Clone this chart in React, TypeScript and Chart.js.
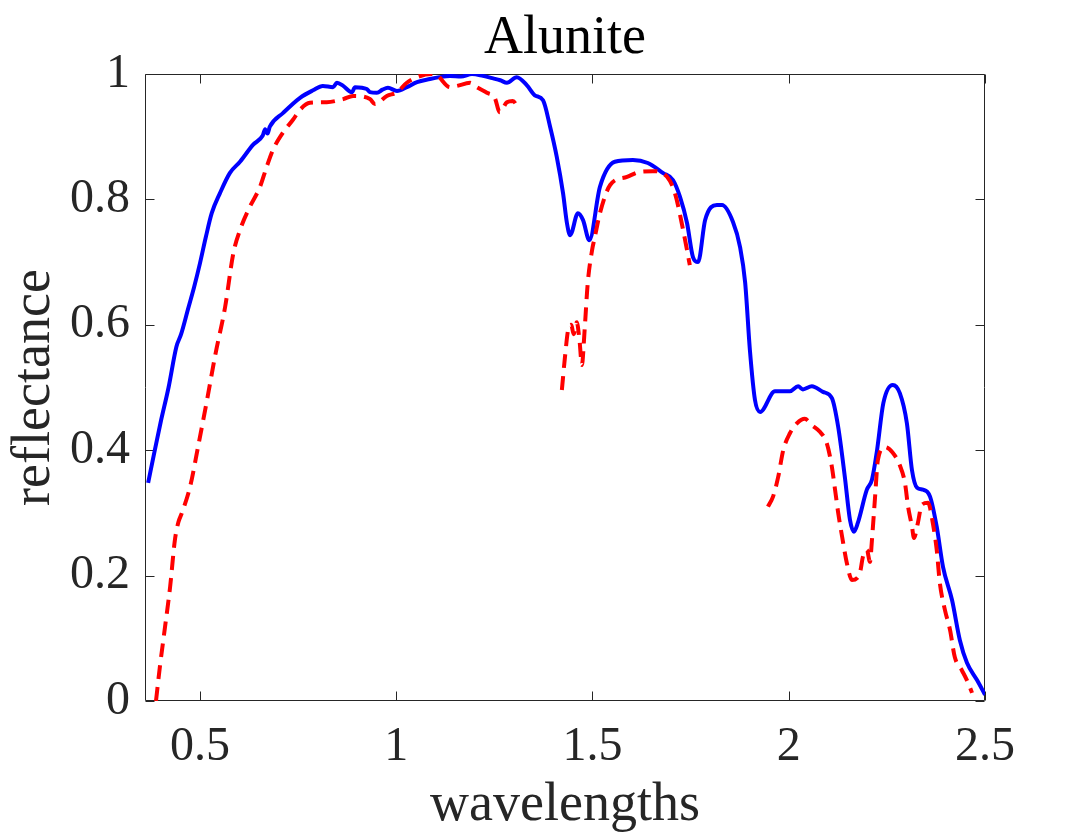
import React, { useEffect, useRef } from "react";
import { Chart, registerables } from "chart.js";

Chart.register(...registerables);

const titleText = "Alunite";
const xLabel = "wavelengths";
const yLabel = "reflectance";

const xMin = 0.36;
const xMax = 2.5;
const yMin = 0;
const yMax = 1;

const xTicks = [0.5, 1, 1.5, 2, 2.5];
const xTickLabels = ["0.5", "1", "1.5", "2", "2.5"];
const yTicks = [0, 0.2, 0.4, 0.6, 0.8, 1];
const yTickLabels = ["0", "0.2", "0.4", "0.6", "0.8", "1"];

// Blue solid spectrum
const blueWl = [
  0.368, 0.385, 0.4, 0.42, 0.44, 0.452, 0.47, 0.485, 0.5, 0.515, 0.53, 0.551, 0.576, 0.602, 0.635,
  0.66, 0.666, 0.672, 0.678, 0.712, 0.755, 0.788, 0.813, 0.839, 0.849, 0.865, 0.887, 0.895, 0.925,
  0.933, 0.951, 0.965, 0.979, 1.002, 1.027, 1.053, 1.086, 1.11, 1.137, 1.165, 1.193, 1.221, 1.247,
  1.265, 1.282, 1.307, 1.333, 1.353, 1.374, 1.392, 1.409, 1.425, 1.435, 1.443, 1.463, 1.476, 1.492,
  1.519, 1.557, 1.603, 1.641, 1.68, 1.705, 1.723, 1.741, 1.756, 1.769, 1.787, 1.817, 1.83, 1.858,
  1.876, 1.889, 1.901, 1.914, 1.927, 1.965, 2.003, 2.024, 2.036, 2.059, 2.087, 2.11, 2.126, 2.143,
  2.156, 2.166, 2.176, 2.199, 2.212, 2.225, 2.241, 2.265, 2.283, 2.301, 2.314, 2.327, 2.342, 2.36,
  2.377, 2.393, 2.416, 2.436, 2.454, 2.48, 2.5,
];
const blueRef = [
  0.348, 0.4, 0.445, 0.5, 0.565, 0.585, 0.626, 0.66, 0.698, 0.74, 0.778, 0.81, 0.842, 0.86, 0.887,
  0.902, 0.912, 0.905, 0.916, 0.938, 0.962, 0.974, 0.981, 0.979, 0.986, 0.981, 0.971, 0.979, 0.976,
  0.971, 0.97, 0.975, 0.978, 0.973, 0.979, 0.987, 0.992, 0.995, 0.997, 0.996, 1.0, 0.997, 0.993,
  0.99, 0.986, 0.995, 0.982, 0.966, 0.958, 0.916, 0.868, 0.81, 0.762, 0.743, 0.778, 0.767, 0.735,
  0.82, 0.86, 0.863, 0.858, 0.842, 0.831, 0.804, 0.762, 0.708, 0.7, 0.767, 0.791, 0.791, 0.764,
  0.724, 0.667, 0.56, 0.48, 0.461, 0.494, 0.494, 0.502, 0.497, 0.502, 0.493, 0.483, 0.437, 0.357,
  0.289, 0.27, 0.284, 0.337, 0.353, 0.4, 0.475, 0.504, 0.491, 0.443, 0.368, 0.34, 0.337, 0.326,
  0.278, 0.214, 0.161, 0.097, 0.061, 0.033, 0.01,
];

// Red dashed spectrum (null = gap in water absorption bands)
const redWl = [
  0.388, 0.398, 0.411, 0.424, 0.436, 0.445, 0.454, 0.475, 0.495, 0.518, 0.54, 0.564, 0.585, 0.602,
  0.627, 0.653, 0.67, 0.686, 0.712, 0.737, 0.755, 0.78, 0.823, 0.865, 0.89, 0.933, 0.946, 0.976,
  1.002, 1.027, 1.053, 1.09, 1.104, 1.137, 1.155, 1.188, 1.205, 1.231, 1.251, 1.264, 1.282, 1.297,
  1.31, 1.36, 1.422, 1.43, 1.438, 1.446, 1.452, 1.46, 1.467, 1.473, 1.48, 1.488, 1.499, 1.506, 1.519,
  1.545, 1.588, 1.621, 1.654, 1.69, 1.71, 1.731, 1.748, 1.85, 1.947, 1.96, 1.973, 1.986, 2.003,
  2.021, 2.041, 2.059, 2.08, 2.097, 2.11, 2.118, 2.126, 2.136, 2.148, 2.161, 2.174, 2.182, 2.189,
  2.199, 2.207, 2.212, 2.22, 2.227, 2.245, 2.265, 2.283, 2.296, 2.304, 2.314, 2.319, 2.329, 2.339,
  2.355, 2.367, 2.377, 2.385, 2.398, 2.411, 2.423, 2.441, 2.457, 2.467,
];
const redRef: (number | null)[] = [
  0.0, 0.055, 0.118, 0.182, 0.256, 0.285, 0.3, 0.342, 0.405, 0.48, 0.555, 0.628, 0.714, 0.751,
  0.788, 0.82, 0.852, 0.879, 0.907, 0.927, 0.943, 0.954, 0.955, 0.96, 0.965, 0.96, 0.952, 0.965,
  0.971, 0.986, 0.995, 1.0, 0.998, 0.979, 0.981, 0.986, 0.979, 0.97, 0.962, 0.939, 0.955, 0.957,
  0.947, null, 0.496, 0.549, 0.592, 0.6, 0.585, 0.604, 0.575, 0.536, 0.592, 0.667, 0.719, 0.74,
  0.778, 0.823, 0.836, 0.844, 0.845, 0.836, 0.81, 0.751, 0.695, null, 0.31, 0.326, 0.357, 0.4,
  0.427, 0.443, 0.45, 0.44, 0.429, 0.411, 0.373, 0.337, 0.3, 0.262, 0.22, 0.193, 0.196, 0.206,
  0.23, 0.241, 0.222, 0.257, 0.326, 0.384, 0.405, 0.396, 0.376, 0.348, 0.31, 0.278, 0.26, 0.284,
  0.313, 0.316, 0.284, 0.241, 0.188, 0.145, 0.113, 0.07, 0.049, 0.029, 0.013,
];

const FONT = "'Liberation Serif', 'Times New Roman', serif";
const AXIS_COLOR = "#262626";

const framePlugin = {
  id: "matlabFrame",
  beforeDatasetsDraw(chart: any) {
    const { ctx, chartArea: a, scales } = chart;
    const L = Math.round(a.left) + 0.5;
    const R = Math.round(a.right) - 0.5;
    const T = Math.round(a.top) + 0.5;
    const B = Math.round(a.bottom) - 0.5;
    const tl = 9;
    ctx.save();
    ctx.strokeStyle = AXIS_COLOR;
    ctx.lineWidth = 1;
    ctx.beginPath();
    ctx.rect(L, T, R - L, B - T);
    for (const v of xTicks) {
      const px = Math.round(scales.x.getPixelForValue(v)) + 0.5;
      ctx.moveTo(px, B);
      ctx.lineTo(px, B - tl);
      ctx.moveTo(px, T);
      ctx.lineTo(px, T + tl);
    }
    for (const v of yTicks) {
      const py = Math.round(scales.y.getPixelForValue(v)) + 0.5;
      ctx.moveTo(L, py);
      ctx.lineTo(L + tl, py);
      ctx.moveTo(R, py);
      ctx.lineTo(R - tl, py);
    }
    ctx.stroke();
    ctx.restore();
  },
  afterDraw(chart: any) {
    const { ctx, chartArea: a } = chart;
    ctx.save();
    ctx.fillStyle = "#000000";
    ctx.font = `54px ${FONT}`;
    ctx.textAlign = "center";
    ctx.textBaseline = "alphabetic";
    ctx.fillText(titleText, (a.left + a.right) / 2, 53);
    ctx.restore();
  },
};

export default function App() {
  const ref = useRef<HTMLCanvasElement | null>(null);

  useEffect(() => {
    if (!ref.current) return;
    const blueData = blueWl.map((x, i) => ({ x, y: blueRef[i] }));
    const redData = redWl.map((x, i) => ({ x, y: redRef[i] }));
    const chart = new Chart(ref.current, {
      type: "line",
      data: {
        datasets: [
          {
            label: "blue",
            data: blueData as any,
            borderColor: "#0000ff",
            borderWidth: 4,
            borderJoinStyle: "round",
            pointRadius: 0,
            cubicInterpolationMode: "monotone",
            fill: false,
            order: 1,
          },
          {
            label: "red",
            data: redData as any,
            borderColor: "#ff0000",
            borderWidth: 4,
            borderDash: [14, 8],
            borderJoinStyle: "round",
            pointRadius: 0,
            cubicInterpolationMode: "monotone",
            fill: false,
            spanGaps: false,
            order: 0,
          },
        ],
      },
      options: {
        animation: false,
        responsive: false,
        devicePixelRatio: 1,
        parsing: false as any,
        layout: { padding: { top: 74, right: 103, bottom: 0, left: 0 } },
        plugins: {
          legend: { display: false },
          tooltip: { enabled: false },
          title: { display: false },
        },
        scales: {
          x: {
            type: "linear",
            min: xMin,
            max: xMax,
            grid: { display: false, drawTicks: false },
            border: { display: false },
            afterBuildTicks: (s: any) => {
              s.ticks = xTicks.map((v) => ({ value: v }));
            },
            afterFit: (s: any) => {
              s.height = 135;
            },
            ticks: {
              autoSkip: false,
              maxRotation: 0,
              padding: 22,
              color: AXIS_COLOR,
              font: { family: FONT, size: 48, lineHeight: 1 },
              callback: (v: any) => {
                const i = xTicks.findIndex((t) => Math.abs(t - Number(v)) < 1e-9);
                return i >= 0 ? xTickLabels[i] : "";
              },
            },
            title: {
              display: true,
              text: xLabel,
              color: AXIS_COLOR,
              font: { family: FONT, size: 54, lineHeight: 1 },
              padding: { top: 0, bottom: 3 },
            },
          },
          y: {
            type: "linear",
            min: yMin,
            max: yMax,
            grid: { display: false, drawTicks: false },
            border: { display: false },
            afterBuildTicks: (s: any) => {
              s.ticks = yTicks.map((v) => ({ value: v }));
            },
            afterFit: (s: any) => {
              s.width = 145;
            },
            ticks: {
              autoSkip: false,
              padding: 15,
              color: AXIS_COLOR,
              font: { family: FONT, size: 48, lineHeight: 1 },
              callback: (v: any) => {
                const i = yTicks.findIndex((t) => Math.abs(t - Number(v)) < 1e-9);
                return i >= 0 ? yTickLabels[i] : "";
              },
            },
            title: {
              display: true,
              text: yLabel,
              color: AXIS_COLOR,
              font: { family: FONT, size: 54, lineHeight: 1 },
              padding: { top: 8, bottom: 0 },
            },
          },
        },
      },
      plugins: [framePlugin],
    });
    return () => chart.destroy();
  }, []);

  return (
    <div style={{ position: "absolute", left: 0, top: 0, width: 1088, height: 836, background: "#ffffff" }}>
      <canvas ref={ref} width={1088} height={836} style={{ display: "block" }} />
    </div>
  );
}
